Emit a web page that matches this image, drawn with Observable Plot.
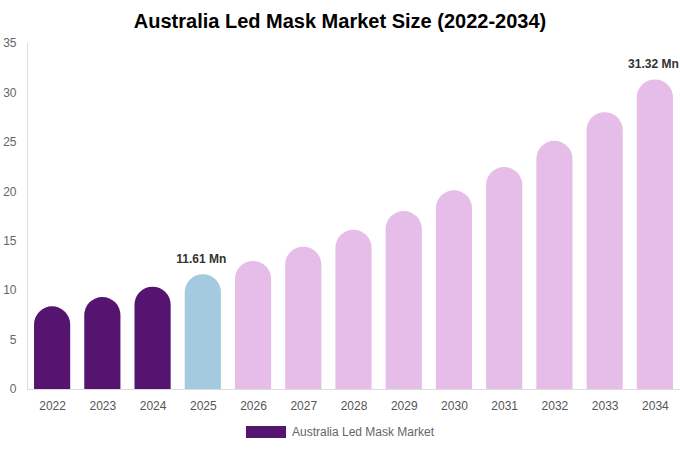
<!DOCTYPE html>
<html>
<head>
<meta charset="utf-8">
<script src="https://cdn.jsdelivr.net/npm/d3@7"></script>
<script src="https://cdn.jsdelivr.net/npm/@observablehq/plot@0.6"></script>
<style>
  html, body { margin: 0; padding: 0; background: #fff; }
  body { width: 680px; font-family: "Liberation Sans", Arial, sans-serif; }
  #title { height: 36px; line-height: 42px; text-align: center; font-weight: bold; font-size: 20px; color: #000; }
  #legend { display: flex; justify-content: center; align-items: center; height: 26px; margin-top: 0px; font-size: 12px; color: #666; }
  #legend .sw { width: 40px; height: 12px; background: #541470; margin-right: 6px; }
</style>
</head>
<body>
<div id="title">Australia Led Mask Market Size (2022-2034)</div>
<div id="chart"></div>
<div id="legend"><span class="sw"></span><span>Australia Led Mask Market</span></div>
<script>
const years = ["2022","2023","2024","2025","2026","2027","2028","2029","2030","2031","2032","2033","2034"];
const values = [8.36, 9.3, 10.35, 11.61, 12.95, 14.4, 16.1, 18.0, 20.1, 22.45, 25.1, 28.0, 31.32];
const phases = ["hist","hist","hist","base","fc","fc","fc","fc","fc","fc","fc","fc","fc"];
const valueLabels = ["","","","11.61 Mn","","","","","","","","","31.32 Mn"];
const yTicks = [0, 5, 10, 15, 20, 25, 30, 35];
const phaseDomain = ["hist","base","fc"];
const phaseColors = ["#541470","#a4cadf","#e6bce8"];

const data = years.map((y, i) => ({year: y, value: values[i], phase: phases[i], label: valueLabels[i]}));

const plot = Plot.plot({
  width: 680,
  height: 383,
  marginLeft: 27,
  marginRight: 0,
  marginTop: 7,
  marginBottom: 30,
  style: {fontFamily: "Liberation Sans, Arial, sans-serif", fontSize: "12px", background: "#fff"},
  x: {domain: years, paddingInner: 0.28, paddingOuter: 0.14, round: false, label: null},
  y: {domain: [0, 35], label: null},
  color: {domain: phaseDomain, range: phaseColors},
  marks: [
    Plot.frame({anchor: "left", stroke: "#ddd"}),
    Plot.barY(data, {x: "year", y: "value", fill: "phase", ry1: 18}),
    Plot.ruleY([0], {stroke: "#ddd"}),
    Plot.text(data.filter(d => d.label), {x: "year", y: "value", text: "label", dy: -16, dx: -2, fontWeight: "bold", fontSize: 12, fill: "#333"}),
    Plot.axisY({ticks: yTicks, tickSize: 0, tickPadding: 11, fill: "#666", fontSize: 12, label: null}),
    Plot.axisX({tickSize: 0, tickPadding: 12, fill: "#555", fontSize: 12, label: null})
  ]
});
document.getElementById("chart").appendChild(plot);
</script>
</body>
</html>
